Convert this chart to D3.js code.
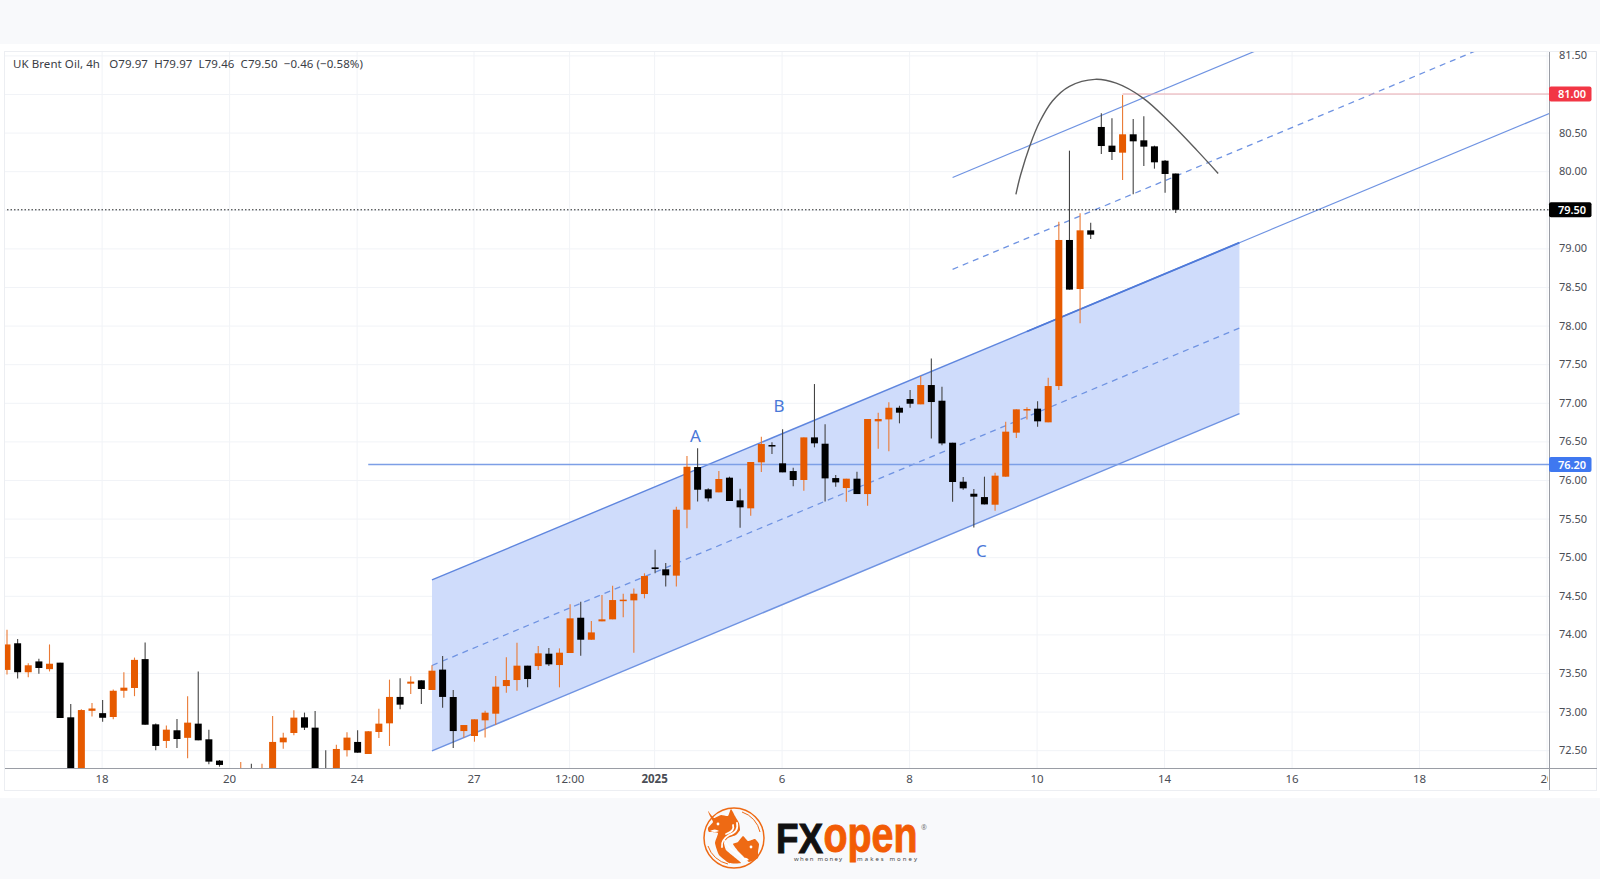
<!DOCTYPE html>
<html>
<head>
<meta charset="utf-8">
<script src="https://cdn.jsdelivr.net/npm/d3@7"></script>
<style>
html, body { margin: 0; padding: 0; background: #f8f9fb; overflow: hidden; }
svg { display: block; }
text { font-family: "Noto Sans", sans-serif; }
</style>
</head>
<body>
<div id="chart"></div>
<script>
// candle values, one array per field
const opens = [73.54,73.885,73.51,73.65,73.55,73.634,72.926,72.2,73.01,72.98,72.93,73.27,73.306,73.68,72.835,72.62,72.758,72.66,72.844,72.641,72.365,72.2,71.9,72.1,71.9,72.1,72.602,72.723,72.926,72.792,72.2,72.1,72.5,72.607,72.451,72.736,72.848,73.19,73.362,73.405,73.28,73.544,73.189,72.748,72.684,72.887,72.973,73.331,73.409,73.595,73.59,73.75,73.603,73.759,74.216,73.931,74.169,74.195,74.441,74.441,74.523,74.868,74.843,74.761,75.615,76.168,75.879,75.84,76.03,75.736,75.633,76.229,76.453,76.216,76.116,76.0,76.552,76.47,76.025,75.896,76.017,75.818,76.76,76.785,76.936,77.049,76.98,77.23,77.027,76.483,75.978,75.822,75.779,75.68,76.043,76.613,76.902,76.924,76.747,77.217,79.109,78.474,79.234,80.573,80.331,80.24,80.478,80.4,80.322,80.136,79.97];
const highs = [74.06,73.94,73.625,73.686,73.87,73.634,73.10,73.03,73.11,73.15,73.285,73.51,73.70,73.895,72.845,72.82,72.905,73.20,73.518,72.766,72.373,72.2,72.347,72.326,72.326,72.943,72.727,73.017,72.987,73.008,72.5,72.572,72.732,72.758,72.75,73.038,73.414,73.431,73.457,73.405,73.6,73.72,73.28,72.826,72.9,73.012,73.461,73.703,73.893,73.595,73.85,73.824,73.819,74.389,74.424,74.173,74.51,74.631,74.527,74.596,74.791,75.097,74.925,75.654,76.311,76.41,75.892,76.116,76.043,75.887,76.233,76.561,76.488,76.656,76.16,76.552,77.243,76.721,76.064,76.017,76.107,76.79,76.872,77.006,76.962,77.165,77.347,77.575,77.208,76.483,76.038,75.883,76.043,76.095,76.755,76.915,76.941,77.019,77.325,79.346,80.266,79.454,79.333,80.75,80.685,80.987,80.676,80.711,80.331,80.145,79.97];
const lows = [73.48,73.43,73.445,73.49,73.52,72.917,72.1,72.1,72.935,72.87,72.90,73.18,73.20,72.83,72.50,72.53,72.53,72.395,72.628,72.317,72.287,71.9,71.8,71.9,71.8,72.0,72.52,72.693,72.762,72.1,72.0,72.0,72.417,72.468,72.45,72.658,72.555,73.03,73.228,73.099,73.28,73.05,72.53,72.662,72.61,72.666,72.826,73.245,73.271,73.314,73.539,73.59,73.314,73.759,73.724,73.931,74.169,74.195,74.221,73.763,74.467,74.791,74.622,74.622,75.374,75.723,75.723,75.84,75.728,75.382,75.538,76.103,76.336,76.099,75.918,75.862,76.423,75.723,75.913,75.719,75.818,75.667,76.405,76.371,76.734,76.936,76.98,76.539,76.449,75.719,75.874,75.386,75.684,75.602,76.043,76.544,76.785,76.69,76.747,77.165,78.466,78.029,79.122,80.223,80.145,79.886,79.7,80.067,80.033,79.722,79.46];
const closes = [73.87,73.51,73.60,73.565,73.62,72.917,72.2,73.02,73.04,72.92,73.27,73.31,73.67,72.83,72.555,72.766,72.645,72.857,72.628,72.352,72.309,72.0,72.1,72.0,72.1,72.607,72.663,72.922,72.792,72.2,72.1,72.516,72.663,72.468,72.745,72.844,73.19,73.09,73.388,73.293,73.53,73.19,72.748,72.826,72.9,72.986,73.323,73.409,73.595,73.422,73.755,73.612,73.763,74.208,73.931,74.026,74.195,74.445,74.45,74.527,74.756,74.847,74.765,75.615,76.172,75.874,75.762,76.013,75.728,75.646,76.233,76.466,76.44,76.099,76.0,76.552,76.475,76.021,75.969,76.017,75.818,76.79,76.79,76.936,76.872,76.988,77.23,77.01,76.474,75.974,75.892,75.784,75.684,76.056,76.626,76.915,76.919,76.76,77.217,79.109,78.466,79.234,79.178,80.326,80.249,80.478,80.387,80.318,80.115,79.964,79.50];

// axis labels
const xTickIdx = [9,21,33,44,53,61,73,85,97,109,121,133,145];
const xTickLabels = ["18","20","24","27","12:00","2025","6","8","10","14","16","18","20"];
const yTicks = d3.range(72.5, 81.51, 0.5);

// drawings as [candle index, price]
const channelTop = [[40,74.705],[116,79.074]];
const channelMid = [[40,73.597],[116,77.969]];
const channelBot = [[40,72.49],[116,76.859]];
const topExt = [[116,79.074],[145.2,80.75]];
const upperSolid = [[89,79.918],[117.5,81.557]];
const upperDash = [[89,78.729],[138.2,81.557]];
const arcPts = [[94.96,79.70],[95.4,79.95],[96.3,80.34],[97.2,80.64],[98.4,80.91],[100,81.1],[102.4,81.19],[104.4,81.14],[106.9,80.95],[109.4,80.64],[112,80.27],[114,79.97]];
const labels = [["A",64.8,76.576],["B",72.66,76.96],["C",91.7,75.08]];
const level1 = 76.2, level1Start = 34;
const level2 = 81.0, level2Start = 105;
const lastPrice = 79.5;
const legendText = "UK Brent Oil, 4h   O79.97  H79.97  L79.46  C79.50  \u22120.46 (\u22120.58%)";

const W = 1600, H = 879;
const plotLeft = 5, plotRight = 1549, plotTop = 52, plotBottom = 768;

const svg = d3.select("#chart").append("svg").attr("width", W).attr("height", H);

// panel
svg.append("rect").attr("x", 0).attr("y", 44).attr("width", W).attr("height", 754).attr("fill", "#fff");
svg.append("rect").attr("x", 4.5).attr("y", 51.5).attr("width", 1592).attr("height", 739)
    .attr("fill", "none").attr("stroke", "#eceef2");

const x = d3.scaleLinear().domain([0, 110]).range([7, 1175.7]);
const y = d3.scaleLinear().domain([72.5, 81]).range([750.2, 94]);

const defs = svg.append("defs");
defs.append("clipPath").attr("id", "plot").append("rect")
    .attr("x", plotLeft).attr("y", plotTop).attr("width", plotRight - plotLeft).attr("height", plotBottom - plotTop);
defs.append("clipPath").attr("id", "xaxisclipb").append("rect")
    .attr("x", plotLeft).attr("y", plotTop - plotBottom).attr("width", plotRight - plotLeft).attr("height", 790 - plotTop);

// grid + axes
const xAxis = d3.axisBottom(x).tickValues(xTickIdx)
    .tickFormat((d, i) => xTickLabels[i]).tickSize(-(plotBottom - plotTop)).tickPadding(7);
const gx = svg.append("g").attr("transform", `translate(-1,${plotBottom})`).attr("clip-path", "url(#xaxisclipb)");
gx.call(xAxis);
gx.select(".domain").remove();
gx.selectAll("line").attr("stroke", "#f1f3f7");
gx.selectAll("text").attr("fill", "#4a4d55").attr("font-size", 11.5)
    .attr("font-weight", (d, i) => xTickLabels[i] == "2025" ? 700 : 400);

// 81.00 and 79.50 are shown by the price tags instead
const yAxis = d3.axisRight(y).tickValues(yTicks)
    .tickFormat(d => (d == level2 || d == lastPrice) ? "" : d3.format(".2f")(d))
    .tickSize(-(plotRight - plotLeft)).tickPadding(10);
const gy = svg.append("g").attr("transform", `translate(${plotRight},0)`).call(yAxis);
gy.select(".domain").remove();
gy.selectAll("line").attr("stroke", "#f1f3f7");
gy.selectAll("text").attr("fill", "#4a4d55").attr("font-size", 11);

const plot = svg.append("g").attr("clip-path", "url(#plot)");
const line = d3.line().x(d => x(d[0])).y(d => y(d[1]));
const blue = "#6f93e2";

// channel
plot.append("path").attr("d", line([channelTop[0], channelTop[1], channelBot[1], channelBot[0]]) + "Z")
    .attr("fill", "#cfdcfb");

function drawLine(pts, width, dash, col) {
    plot.append("path").attr("d", line(pts)).attr("fill", "none")
        .attr("stroke", col || blue).attr("stroke-width", width).attr("stroke-dasharray", dash || null);
}
drawLine(channelTop, 1.4, null, "#5f86de");
drawLine([[96,77.924],[116,79.074]], 1.8, null, "#4f7ad9");
drawLine(channelBot, 1.4);
drawLine(channelMid, 1.3, "6 5");
drawLine(topExt, 1.2);
drawLine(upperSolid, 1.2);
drawLine(upperDash, 1.3, "6 5");

// horizontal levels
drawLine([[level1Start, level1],[146, level1]], 1.5, null, "#7d9fe6");
drawLine([[level2Start, level2],[146, level2]], 1.2, null, "#e9a9b0");
drawLine([[0, lastPrice],[146, lastPrice]], 1, "1.5 2", "#222");

// arc
plot.append("path").attr("d", d3.line().x(d => x(d[0])).y(d => y(d[1])).curve(d3.curveCatmullRom)(arcPts))
    .attr("fill", "none").attr("stroke", "#5c5c5c").attr("stroke-width", 1.4);

// candles
const orange = "#e65a00", black = "#000";
const candles = closes.map((c, i) => ({ i: i, o: opens[i], h: highs[i], l: lows[i], c: c }));
const cg = plot.selectAll("g.candle").data(candles).enter().append("g");
cg.append("line")
    .attr("x1", d => x(d.i)).attr("x2", d => x(d.i))
    .attr("y1", d => y(d.h)).attr("y2", d => y(d.l))
    .attr("stroke", d => d.c >= d.o ? "#ea7a35" : "#444").attr("stroke-width", 1.1);
cg.append("rect")
    .attr("x", d => x(d.i) - 3.5).attr("width", 7)
    .attr("y", d => y(Math.max(d.o, d.c)))
    .attr("height", d => Math.max(1.5, y(Math.min(d.o, d.c)) - y(Math.max(d.o, d.c))))
    .attr("fill", d => d.c >= d.o ? orange : black);

// A B C
svg.selectAll("text.wave").data(labels).enter().append("text")
    .attr("x", d => x(d[1])).attr("y", d => y(d[2])).attr("dy", "0.36em")
    .attr("text-anchor", "middle").attr("font-size", 17).attr("fill", "#4a78d8").text(d => d[0]);

// axis borders
svg.append("line").attr("x1", plotLeft).attr("x2", 1597).attr("y1", plotBottom + .5).attr("y2", plotBottom + .5).attr("stroke", "#9a9da5");
svg.append("line").attr("x1", plotRight + .5).attr("x2", plotRight + .5).attr("y1", plotTop).attr("y2", 790).attr("stroke", "#9a9da5");

// price tags
function tag(val, bg, fg) {
    svg.append("rect").attr("x", plotRight).attr("y", y(val) - 7.5).attr("width", 42.5).attr("height", 15).attr("rx", 2).attr("fill", bg);
    svg.append("text").attr("x", plotRight + 23).attr("y", y(val)).attr("dy", "0.36em").attr("text-anchor", "middle")
        .attr("font-size", 11).attr("font-weight", 600).attr("fill", fg).text(d3.format(".2f")(val));
}
tag(level2, "#f23645", "#fff");
tag(lastPrice, "#000", "#fff");
tag(level1, "#3f78f0", "#fff");

// legend
svg.append("text").attr("x", 13).attr("y", 68).attr("font-size", 11.5).attr("fill", "#3a3d45")
    .attr("xml:space", "preserve").attr("letter-spacing", 0.07).text(legendText);

// logo
const logo = svg.append("g").attr("transform", "translate(734,838)");
const lo = "#ee6a14";
const blob = d3.line().curve(d3.curveCardinalClosed.tension(0.55));
logo.append("circle").attr("r", 30).attr("fill", "none").attr("stroke", lo).attr("stroke-width", 1.5);
logo.append("path").attr("fill", "none").attr("stroke", lo).attr("stroke-width", 1)
    .attr("d", "M-26,8 A27,27 0 0 0 -6,26 M8,-26 A27,27 0 0 1 26,-6");
// bull, top left
logo.append("path").attr("fill", lo).attr("d", blob([[-26,-27],[-20,-20],[-13,-23],[-6,-22],[-3,-29],[1,-22],[5,-15],[6,-8],[2,-3],[-6,0],[-10,5],[-8,12],[-1,18],[7,25],[-5,25],[-15,17],[-19,5],[-16,-5],[-25,-6],[-26,-10],[-21,-16],[-24,-22]]));
// bear, bottom right
logo.append("path").attr("fill", lo).attr("d", blob([[9,-2],[14,3],[21,1],[25,6],[24,14],[24,20],[15,24],[9,18],[4,13],[-1,6],[4,4]]));
// white ribbons and eyes
logo.append("path").attr("fill", "none").attr("stroke", "#fff").attr("stroke-width", 1.8).attr("stroke-linecap", "round")
    .attr("d", "M3,-15 Q5,-6 -5,-3 Q-13,2 -12,9 M-9,3 Q-6,10 3,15 Q9,19 10,23 M-1,-13 Q1,-7 -8,-4");
logo.append("circle").attr("cx", -16).attr("cy", -14).attr("r", 1.4).attr("fill", "#fff");
logo.append("circle").attr("cx", 17).attr("cy", 9).attr("r", 1.4).attr("fill", "#fff");
logo.append("path").attr("fill", "#fff").attr("d", "M-24,-7 Q-19,-10 -15,-7 Q-19,-5 -24,-7 Z M8,21 Q12,18 15,22 Q11,24 8,21 Z");

logo.append("text").attr("x", 42).attr("y", 15).attr("style", "font-family:'Liberation Sans'").attr("font-weight", 700)
    .attr("font-size", 42).attr("fill", "#111").attr("stroke", "#111").attr("stroke-width", 1)
    .attr("textLength", 47).attr("lengthAdjust", "spacingAndGlyphs").text("FX");
logo.append("text").attr("x", 89.5).attr("y", 13.5).attr("style", "font-family:'Liberation Sans'").attr("font-weight", 700)
    .attr("font-size", 50).attr("fill", "#f25c05").attr("stroke", "#f25c05").attr("stroke-width", 1)
    .attr("textLength", 94).attr("lengthAdjust", "spacingAndGlyphs").text("open");
logo.append("text").attr("x", 60).attr("y", 23).attr("font-size", 6).attr("fill", "#444").attr("textLength", 48).text("when money");
logo.append("text").attr("x", 123).attr("y", 23).attr("font-size", 6).attr("fill", "#444").attr("textLength", 60).text("makes money");
logo.append("text").attr("x", 187).attr("y", -8).attr("font-size", 7).attr("fill", "#777").text("\u00ae");
</script>
</body>
</html>
